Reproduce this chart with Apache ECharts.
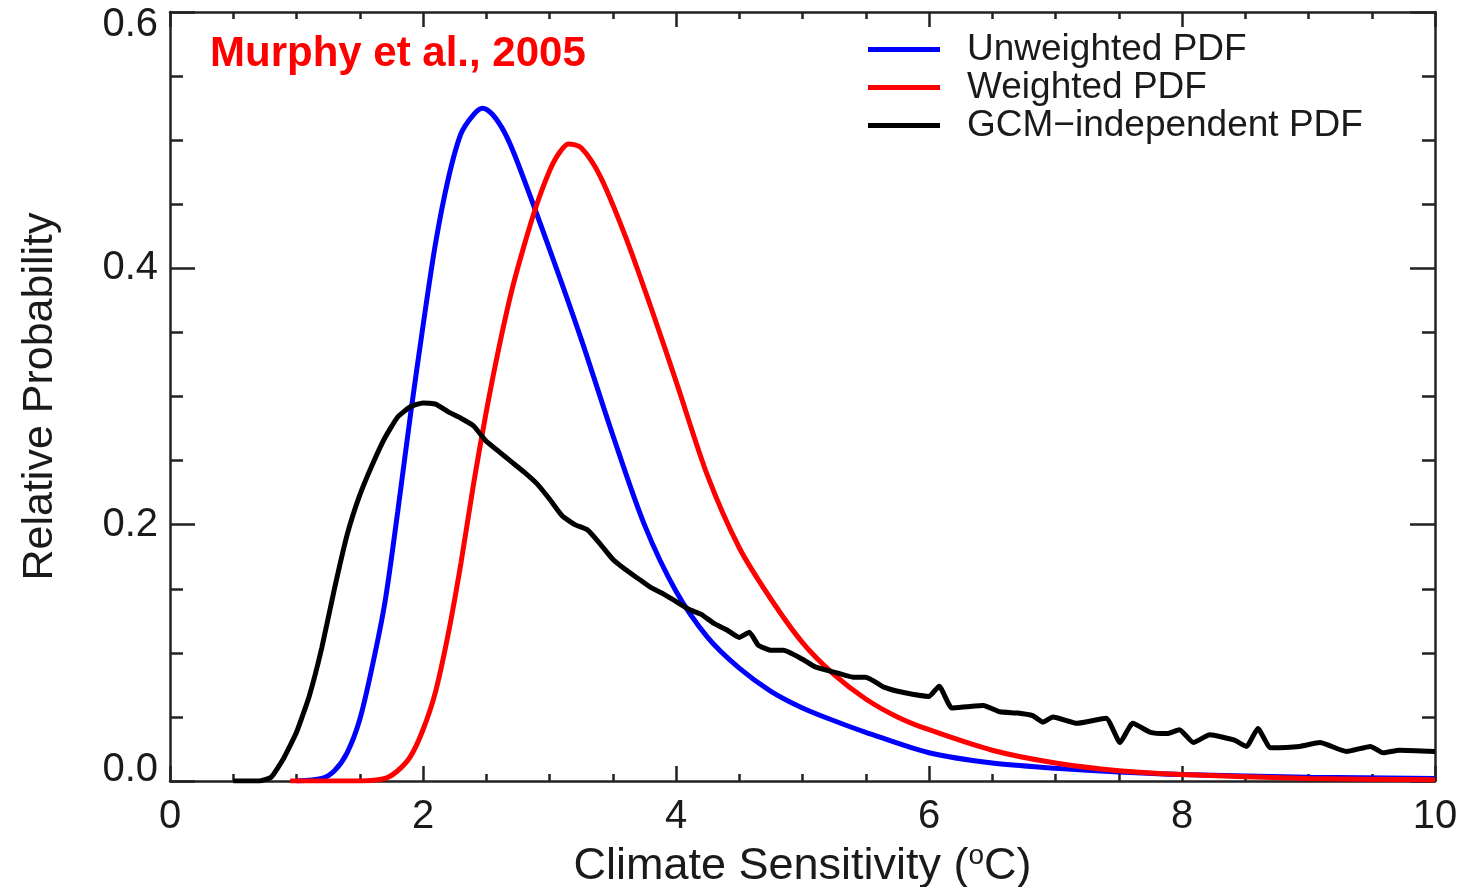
<!DOCTYPE html>
<html>
<head>
<meta charset="utf-8">
<script src="https://cdn.jsdelivr.net/npm/echarts@6/dist/echarts.min.js"></script>
<style>
  html, body { margin: 0; padding: 0; background: #fff; }
  #chart { width: 1470px; height: 887px; }
</style>
</head>
<body>
<div id="chart"></div>
<script>
// values (x = climate sensitivity, y = relative probability)
var unweightedX = [1.0, 1.2, 1.3, 1.4, 1.5, 1.6, 1.7, 1.8, 1.9, 2.0, 2.1, 2.2, 2.3, 2.4, 2.47, 2.55, 2.65, 2.75, 3.0, 3.25, 3.5, 3.75, 4.0, 4.25, 4.5, 4.75, 5.0, 5.25, 5.5, 6.0, 6.5, 7.0, 7.5, 8.0, 9.0, 10.0]
var unweightedY = [0, 0.002, 0.008, 0.022, 0.048, 0.09, 0.14, 0.21, 0.285, 0.355, 0.42, 0.47, 0.505, 0.52, 0.525, 0.52, 0.505, 0.482, 0.415, 0.345, 0.27, 0.2, 0.148, 0.112, 0.088, 0.07, 0.057, 0.047, 0.038, 0.022, 0.014, 0.01, 0.007, 0.005, 0.003, 0.002]

var weightedX = [0.95, 1.5, 1.7, 1.8, 1.9, 2.0, 2.1, 2.2, 2.3, 2.4, 2.5, 2.6, 2.7, 2.8, 2.9, 3.0, 3.07, 3.15, 3.25, 3.4, 3.6, 3.8, 4.0, 4.25, 4.5, 4.75, 5.0, 5.25, 5.5, 5.75, 6.0, 6.5, 7.0, 7.5, 8.0, 9.0, 10.0]
var weightedY = [0, 0, 0.002, 0.008, 0.019, 0.04, 0.07, 0.115, 0.17, 0.232, 0.288, 0.338, 0.382, 0.418, 0.45, 0.476, 0.489, 0.497, 0.494, 0.472, 0.425, 0.37, 0.312, 0.238, 0.182, 0.142, 0.108, 0.083, 0.064, 0.05, 0.04, 0.024, 0.014, 0.008, 0.005, 0.002, 0.001]

var gcmX = [0.5, 0.7, 0.8, 0.9, 1.0, 1.1, 1.2, 1.3, 1.4, 1.5, 1.6, 1.7, 1.8, 1.9, 2.0, 2.1, 2.2, 2.3, 2.4, 2.5, 2.6, 2.7, 2.8, 2.9, 3.0, 3.1, 3.2, 3.3, 3.4, 3.5, 3.6, 3.7, 3.8, 3.9, 4.0, 4.1, 4.2, 4.3, 4.4, 4.5, 4.58, 4.65, 4.75, 4.85, 5.0, 5.1, 5.25, 5.4, 5.5, 5.65, 5.8, 6.0, 6.08, 6.18, 6.3, 6.43, 6.56, 6.7, 6.82, 6.9, 6.98, 7.17, 7.4, 7.51, 7.61, 7.75, 7.88, 7.98, 8.09, 8.22, 8.41, 8.51, 8.6, 8.7, 8.93, 9.09, 9.3, 9.49, 9.59, 9.72, 10.0]
var gcmY = [0, 0, 0.003, 0.018, 0.038, 0.066, 0.104, 0.15, 0.192, 0.223, 0.247, 0.268, 0.284, 0.292, 0.295, 0.294, 0.288, 0.283, 0.277, 0.265, 0.257, 0.249, 0.241, 0.232, 0.22, 0.207, 0.2, 0.196, 0.185, 0.173, 0.165, 0.158, 0.151, 0.146, 0.14, 0.134, 0.13, 0.123, 0.118, 0.112, 0.116, 0.106, 0.102, 0.102, 0.095, 0.089, 0.085, 0.081, 0.081, 0.073, 0.069, 0.066, 0.074, 0.057, 0.058, 0.059, 0.054, 0.053, 0.051, 0.046, 0.05, 0.045, 0.049, 0.03, 0.045, 0.038, 0.037, 0.04, 0.03, 0.036, 0.032, 0.027, 0.041, 0.026, 0.027, 0.03, 0.023, 0.027, 0.022, 0.024, 0.023]

var seriesNames = ['Unweighted PDF', 'Weighted PDF', 'GCM\u2212independent PDF']
var seriesColors = ['#0000ff', '#ff0000', '#000000']

function pairs (xs, ys) {
    var out = []
    for (var i = 0; i < xs.length; i++) {
        out.push([xs[i], ys[i]])
    }
    return out
}

var font = 'Liberation Sans, Arial, Helvetica, sans-serif'
var axisColor = '#222'
var textColor = '#1a1a1a'

// box axes: ticks point inwards on all four sides, IDL style
function boxAxis (pos, min, max, interval, major, minor) {
    return {
        type: 'value',
        min: min,
        max: max,
        interval: interval,
        position: pos,
        axisLine: { onZero: false, lineStyle: { color: axisColor, width: 2.5 } },
        axisTick: { inside: true, length: major, lineStyle: { color: axisColor, width: 2.5 } },
        minorTick: { show: true, splitNumber: 4, length: minor, lineStyle: { color: axisColor, width: 2.5 } },
        axisLabel: { show: false },
        splitLine: { show: false }
    }
}

var xBottom = boxAxis('bottom', 0, 10, 2, 15, 7)
xBottom.axisLabel = { show: true, fontSize: 40, color: textColor, fontFamily: font, margin: 16 }
xBottom.name = '{n|Climate Sensitivity (}{s|o}{n|C)}'
xBottom.nameLocation = 'middle'
xBottom.nameGap = 54
xBottom.nameTextStyle = {
    rich: {
        n: { fontSize: 45, fontFamily: font, color: textColor, lineHeight: 50 },
        s: { fontSize: 28, fontFamily: font, color: textColor, verticalAlign: 'top', lineHeight: 30 }
    }
}

// end labels sit inside the box, like the original
var yLeft = boxAxis('left', 0, 0.6, 0.2, 25, 13)
yLeft.axisLabel = {
    show: true,
    color: textColor,
    fontFamily: font,
    fontSize: 40,
    margin: 12,
    formatter: function (v) {
        var s = v.toFixed(1)
        if (v >= 0.6) return '{hi|' + s + '}'
        if (v <= 0) return '{lo|' + s + '}'
        return '{m|' + s + '}'
    },
    rich: {
        m: { fontSize: 40, fontFamily: font, color: textColor },
        hi: { fontSize: 40, fontFamily: font, color: textColor, padding: [26, 0, 0, 0] },
        lo: { fontSize: 40, fontFamily: font, color: textColor, padding: [0, 0, 22, 0] }
    }
}
yLeft.name = 'Relative Probability'
yLeft.nameLocation = 'middle'
yLeft.nameGap = 108
yLeft.nameTextStyle = { fontSize: 43, color: textColor, fontFamily: font }

var myChart = echarts.init(document.getElementById('chart'))
var option = {
    backgroundColor: '#fff',
    animation: false,
    title: {
        text: 'Murphy et al., 2005',
        left: 205,
        top: 28,
        textStyle: { color: '#ff0000', fontSize: 42, fontWeight: 'bold', fontFamily: font }
    },
    legend: {
        orient: 'vertical',
        left: 863,
        top: 26,
        icon: 'rect',
        itemWidth: 72,
        itemHeight: 5,
        itemGap: 1,
        data: seriesNames,
        textStyle: { fontSize: 37, lineHeight: 36, color: textColor, fontFamily: font, padding: [0, 0, 0, 22] }
    },
    grid: { left: 170, right: 35, top: 12, bottom: 106, outerBoundsMode: 'none', containLabel: false },
    xAxis: [xBottom, boxAxis('top', 0, 10, 2, 15, 7)],
    yAxis: [yLeft, boxAxis('right', 0, 0.6, 0.2, 25, 13)],
    series: [
        {
            name: seriesNames[0],
            type: 'line',
            smooth: 0.3,
            showSymbol: false,
            color: seriesColors[0],
            lineStyle: { color: seriesColors[0], width: 5 },
            data: pairs(unweightedX, unweightedY)
        },
        {
            name: seriesNames[1],
            type: 'line',
            smooth: 0.3,
            showSymbol: false,
            color: seriesColors[1],
            lineStyle: { color: seriesColors[1], width: 5 },
            data: pairs(weightedX, weightedY)
        },
        {
            name: seriesNames[2],
            type: 'line',
            smooth: 0.15,
            showSymbol: false,
            color: seriesColors[2],
            lineStyle: { color: seriesColors[2], width: 5 },
            data: pairs(gcmX, gcmY)
        }
    ]
}
myChart.setOption(option)
</script>
</body>
</html>
